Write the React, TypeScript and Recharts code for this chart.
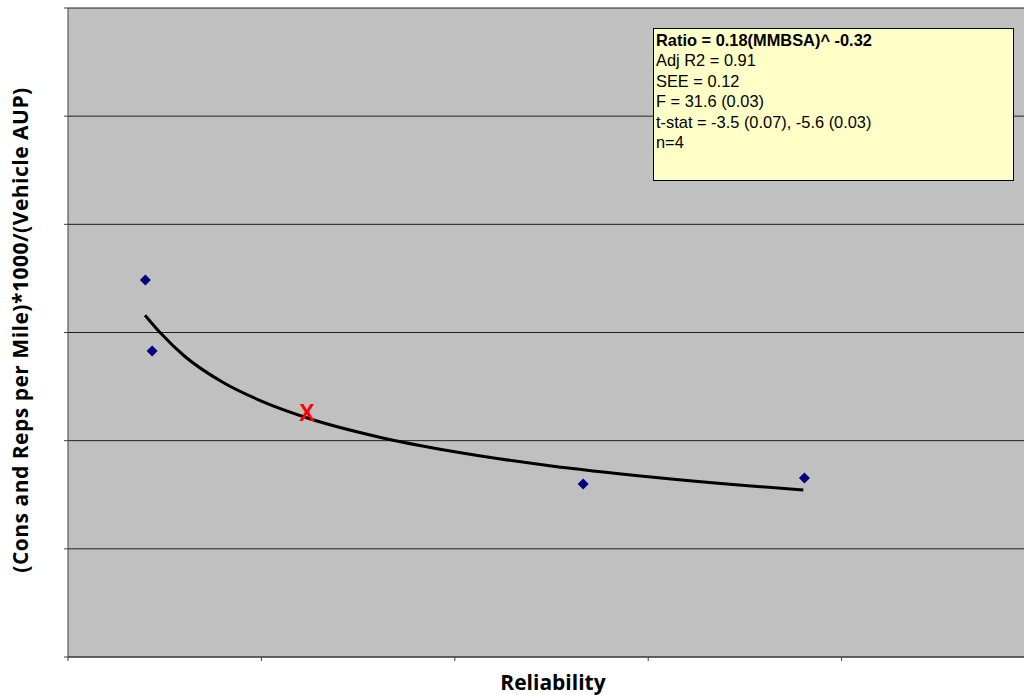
import {
  CartesianGrid,
  ComposedChart,
  Line,
  Scatter,
  XAxis,
  YAxis,
} from "recharts";

// observed cars (reliability vs ratio)
const observedX = [0.4, 0.435, 2.664, 3.808];
const observedY = [3.485, 2.83, 1.6, 1.655];

// the "X" estimate sitting on the curve
const estimateX = [1.236];
const estimateY = [2.256];

// fitted power curve
const curveX = [0.398, 0.476, 0.6, 0.8, 1.0, 1.25, 1.6, 2.0, 2.5, 3.0, 3.5, 3.802];
const curveY = [3.16, 3.0, 2.785, 2.54, 2.366, 2.203, 2.037, 1.897, 1.766, 1.667, 1.586, 1.545];

const xTicks = [0, 1, 2, 3, 4, 5];
const yTicks = [0, 1, 2, 3, 4, 5, 6];

const statLines = [
  "Adj R2 = 0.91",
  "SEE = 0.12",
  "F = 31.6 (0.03)",
  "t-stat = -3.5 (0.07), -5.6 (0.03)",
  "n=4",
];

const observed = observedX.map((x, i) => ({ x, y: observedY[i] }));
const estimate = estimateX.map((x, i) => ({ x, y: estimateY[i] }));
const curve = curveX.map((x, i) => ({ x, y: curveY[i] }));

const noTick = () => <g />;

function Diamond(props: any) {
  const { cx, cy } = props;
  const r = 5.5;
  return (
    <polygon
      points={`${cx},${cy - r} ${cx + r},${cy} ${cx},${cy + r} ${cx - r},${cy}`}
      fill="#000080"
    />
  );
}

function RedX(props: any) {
  const { cx, cy } = props;
  return (
    <text
      x={cx}
      y={cy}
      textAnchor="middle"
      dominantBaseline="central"
      fill="#FF0000"
      fontFamily="Liberation Sans, Arial, sans-serif"
      fontWeight="bold"
      fontSize={23}
    >
      X
    </text>
  );
}

const titleFont = "'Open Sans', Lato, sans-serif";

export default function App() {
  return (
    <div
      style={{
        position: "absolute",
        left: 0,
        top: 0,
        width: 1024,
        height: 695,
        overflow: "hidden",
        background: "#fff",
      }}
    >
      <ComposedChart
        width={1035}
        height={695}
        margin={{ top: 8, right: 0, bottom: 0, left: 0 }}
      >
        <CartesianGrid
          fill="#C0C0C0"
          vertical={false}
          stroke="#202020"
          strokeOpacity={1}
        />
        <XAxis
          type="number"
          dataKey="x"
          domain={[0, 5]}
          ticks={xTicks}
          height={38}
          tick={noTick}
          tickSize={4}
          stroke="#404040"
          allowDataOverflow
        />
        <YAxis
          type="number"
          dataKey="y"
          domain={[0, 6]}
          ticks={yTicks}
          width={68}
          tick={noTick}
          tickSize={4}
          stroke="#404040"
          allowDataOverflow
        />
        <Line
          data={curve}
          dataKey="y"
          type="monotone"
          stroke="#000"
          strokeWidth={3}
          dot={false}
          activeDot={false}
          isAnimationActive={false}
        />
        <Scatter
          data={observed}
          dataKey="y"
          shape={<Diamond />}
          isAnimationActive={false}
        />
        <Scatter
          data={estimate}
          dataKey="y"
          shape={<RedX />}
          isAnimationActive={false}
        />
      </ComposedChart>

      <div
        style={{
          position: "absolute",
          left: 653,
          top: 28,
          width: 357,
          height: 150,
          background: "#FFFFC8",
          border: "1px solid #000",
          fontFamily: "'Liberation Sans', Arial, sans-serif",
          fontSize: 16.4,
          lineHeight: "20.4px",
          color: "#000",
          padding: "1px 0 0 2px",
          boxSizing: "content-box",
        }}
      >
        <div style={{ fontWeight: "bold" }}>Ratio = 0.18(MMBSA)^ -0.32</div>
        {statLines.map((s) => (
          <div key={s}>{s}</div>
        ))}
      </div>

      <div
        style={{
          position: "absolute",
          left: 0,
          top: 668,
          width: 1106,
          textAlign: "center",
          fontFamily: titleFont,
          fontWeight: "bold",
          fontSize: 21,
          color: "#000",
        }}
      >
        Reliability
      </div>

      <div
        style={{
          position: "absolute",
          left: 20,
          top: 330,
          transform: "translate(-50%, -50%) rotate(-90deg)",
          whiteSpace: "nowrap",
          fontFamily: titleFont,
          fontWeight: "bold",
          fontSize: 21,
          letterSpacing: 0.5,
          color: "#000",
        }}
      >
        (Cons and Reps per Mile)*1000/(Vehicle AUP)
      </div>
    </div>
  );
}
